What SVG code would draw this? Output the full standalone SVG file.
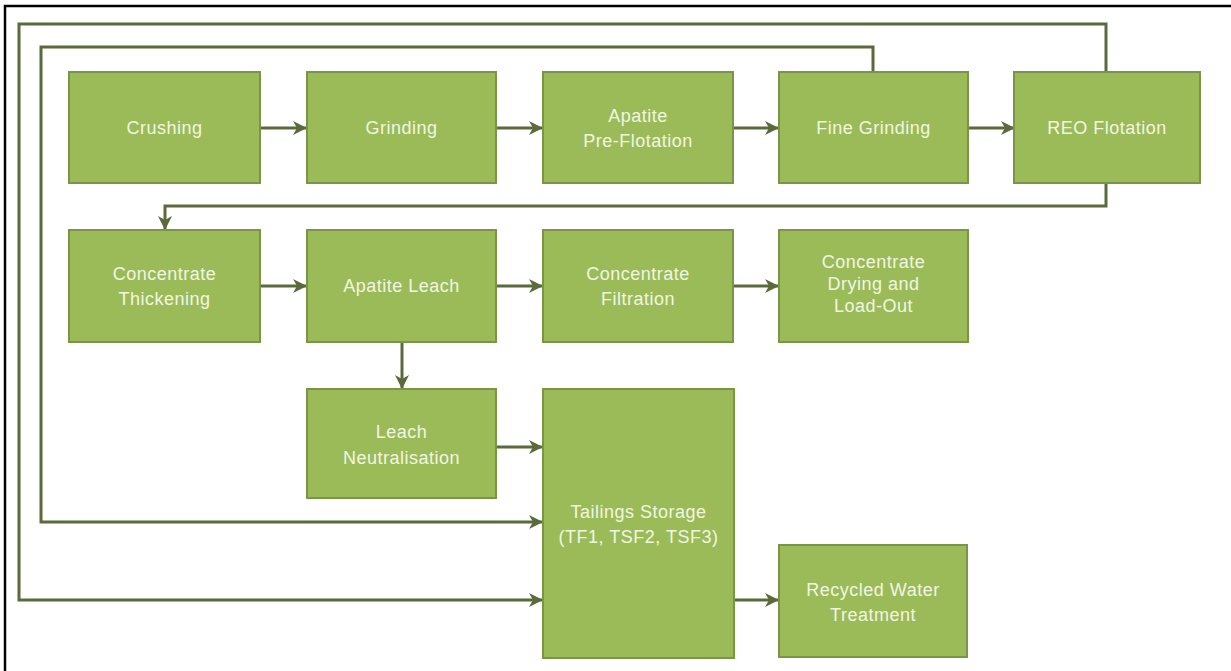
<svg xmlns="http://www.w3.org/2000/svg" width="1231" height="671" viewBox="0 0 1231 671">
<defs>
<style>
.node rect{fill:#9BBB59;stroke:#7A9448;stroke-width:2}
.node text{fill:#F1F6E2;font-family:"Liberation Sans",Arial,sans-serif;font-size:18px;letter-spacing:0.5px;text-anchor:middle;dominant-baseline:central}
.conn path{fill:none;stroke:#5A6A3A;stroke-width:3;stroke-linejoin:miter}
.frame{stroke:#000;stroke-width:2.5;fill:none}
</style>
<marker id="ah" viewBox="0 0 14 14" refX="13" refY="7" markerWidth="14" markerHeight="14" markerUnits="userSpaceOnUse" orient="auto">
<path d="M0,0 L14,7 L0,14 L4,7 z" fill="#5A6A3A"/>
</marker>
</defs>
<rect width="1231" height="671" fill="#FFFFFF"/>
<path class="frame" d="M5,671 L5,6 L1231,6"/>

<g class="conn">
<path d="M1106,72 V24 H19 V600 H542" marker-end="url(#ah)"/>
<path d="M873,72 V47 H41 V522 H542" marker-end="url(#ah)"/>
<path d="M1106,183 V206 H165 V229" marker-end="url(#ah)"/>
<path d="M260,128 H306" marker-end="url(#ah)"/>
<path d="M496,128 H542" marker-end="url(#ah)"/>
<path d="M733,128 H778" marker-end="url(#ah)"/>
<path d="M968,128 H1014" marker-end="url(#ah)"/>
<path d="M260,286 H306" marker-end="url(#ah)"/>
<path d="M496,286 H542" marker-end="url(#ah)"/>
<path d="M733,286 H778" marker-end="url(#ah)"/>
<path d="M402,342 V388" marker-end="url(#ah)"/>
<path d="M496,447 H542" marker-end="url(#ah)"/>
<path d="M734,600 H778" marker-end="url(#ah)"/>
</g>

<g id="crushing" class="node"><rect x="69" y="72" width="191" height="111"/><text x="164.5" y="128">Crushing</text></g>
<g id="grinding" class="node"><rect x="307" y="72" width="189" height="111"/><text x="401.5" y="128">Grinding</text></g>
<g id="apatite-pre-flotation" class="node"><rect x="543" y="72" width="190" height="111"/><text x="638" y="116">Apatite</text><text x="638" y="141">Pre-Flotation</text></g>
<g id="fine-grinding" class="node"><rect x="779" y="72" width="189" height="111"/><text x="873.5" y="128">Fine Grinding</text></g>
<g id="reo-flotation" class="node"><rect x="1014" y="72" width="186" height="111"/><text x="1107" y="128">REO Flotation</text></g>

<g id="concentrate-thickening" class="node"><rect x="69" y="230" width="191" height="112"/><text x="164.5" y="274">Concentrate</text><text x="164.5" y="299">Thickening</text></g>
<g id="apatite-leach" class="node"><rect x="307" y="230" width="189" height="112"/><text x="401.5" y="286">Apatite Leach</text></g>
<g id="concentrate-filtration" class="node"><rect x="543" y="230" width="190" height="112"/><text x="638" y="274">Concentrate</text><text x="638" y="299">Filtration</text></g>
<g id="concentrate-drying" class="node"><rect x="779" y="230" width="189" height="112"/><text x="873.5" y="262">Concentrate</text><text x="873.5" y="284">Drying and</text><text x="873.5" y="306">Load-Out</text></g>

<g id="leach-neutralisation" class="node"><rect x="307" y="389" width="189" height="109"/><text x="401.5" y="432">Leach</text><text x="401.5" y="458">Neutralisation</text></g>
<g id="tailings-storage" class="node"><rect x="543" y="389" width="191" height="269"/><text x="638.5" y="512">Tailings Storage</text><text x="638.5" y="537">(TF1, TSF2, TSF3)</text></g>
<g id="recycled-water-treatment" class="node"><rect x="779" y="545" width="188" height="112"/><text x="873" y="590">Recycled Water</text><text x="873" y="615">Treatment</text></g>
</svg>
